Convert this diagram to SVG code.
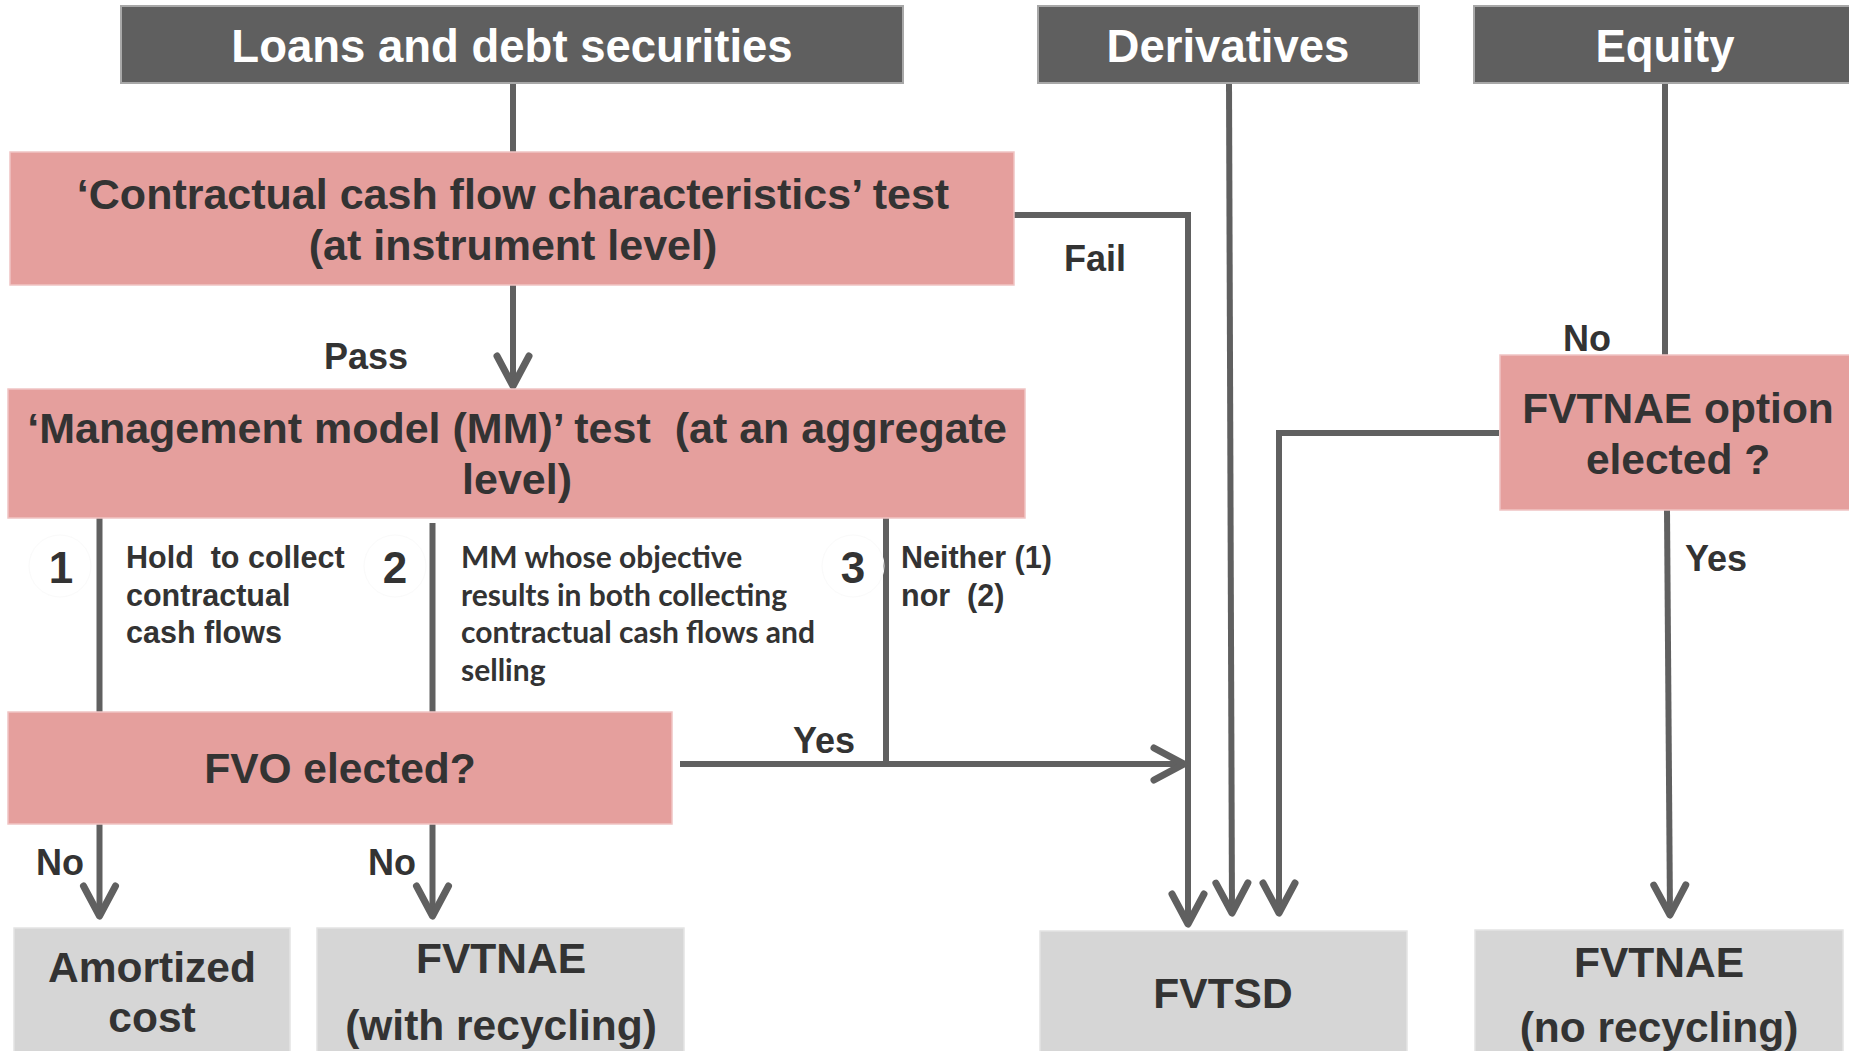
<svg xmlns="http://www.w3.org/2000/svg" width="1849" height="1051" viewBox="0 0 1849 1051">
  <style>
    .hdr { fill: #5f5f5f; stroke: #a8a8a8; stroke-width: 2; }
    .hdr-t { font-family: "Liberation Sans", Arial, sans-serif; font-weight: bold; font-size: 45.5px; fill: #ffffff; text-anchor: middle; }
    .test { fill: #e59f9d; stroke: #f0c4c3; stroke-width: 1.5; }
    .res { fill: #d6d6d6; stroke: #e4e4e4; stroke-width: 1.5; }
    .box-t { font-family: "Liberation Sans", Arial, sans-serif; font-weight: bold; font-size: 43px; fill: #333333; text-anchor: middle; white-space: pre; }
    .sm { font-size: 42.5px; }
    .lbl { font-family: "Liberation Sans", Arial, sans-serif; font-weight: bold; font-size: 36px; fill: #333333; }
    .num { font-family: "Liberation Sans", Arial, sans-serif; font-weight: bold; font-size: 44px; fill: #333333; text-anchor: middle; }
    .ring { fill: none; stroke: #fafafa; stroke-width: 1; }
    .desc { font-family: "Liberation Sans", Arial, sans-serif; font-weight: bold; font-size: 30.5px; fill: #333333; white-space: pre; }
    .desc-c { font-family: Lato, "Open Sans", sans-serif; font-weight: bold; font-size: 30px; fill: #333333; white-space: pre; }
    .wire { fill: none; stroke: #606060; stroke-width: 6; }
    .arrow { marker-end: url(#chev); }
  </style>
  <defs>
    <marker id="chev" markerUnits="userSpaceOnUse" viewBox="-40 -24 46 48" refX="0" refY="0" markerWidth="46" markerHeight="48" orient="auto">
      <path d="M-31,-16 L-1,0 L-31,16" fill="none" stroke="#606060" stroke-width="7" stroke-linecap="round" stroke-linejoin="round"/>
    </marker>
  </defs>

  <!-- connectors -->
  <g id="connectors">
    <path class="wire" d="M513,83 V152"/>
    <path class="wire arrow" d="M513,285 V387"/>
    <path class="wire arrow" d="M1011,215 H1188 V925"/>
    <path class="wire arrow" d="M1229,83 L1232,914"/>
    <path class="wire arrow" d="M1499,433 H1279 V914"/>
    <path class="wire" d="M1665,83 V355"/>
    <path class="wire arrow" d="M1667,510 L1670,916"/>
    <path class="wire" d="M99.5,518 V712"/>
    <path class="wire arrow" d="M99.5,824 V917"/>
    <path class="wire" d="M432.5,523 V712"/>
    <path class="wire arrow" d="M432.5,824 V917"/>
    <path class="wire" d="M886,518 V764"/>
    <path class="wire arrow" d="M680,764 H1185"/>
  </g>

  <!-- category headers -->
  <g id="hdr-loans">
    <rect class="hdr" x="121" y="6" width="782" height="77"/>
    <text class="hdr-t" x="512" y="62">Loans and debt securities</text>
  </g>
  <g id="hdr-derivatives">
    <rect class="hdr" x="1038" y="6" width="381" height="77"/>
    <text class="hdr-t" x="1228" y="62">Derivatives</text>
  </g>
  <g id="hdr-equity">
    <rect class="hdr" x="1474" y="6" width="380" height="77"/>
    <text class="hdr-t" x="1665" y="62">Equity</text>
  </g>

  <!-- tests -->
  <g id="ccf-test">
    <rect class="test" x="10" y="152" width="1004" height="133"/>
    <text class="box-t" x="513" y="209">‘Contractual cash flow characteristics’ test</text>
    <text class="box-t" x="513" y="260">(at instrument level)</text>
  </g>
  <g id="mm-test">
    <rect class="test" x="8" y="389" width="1017" height="129"/>
    <text class="box-t" x="517" y="443">‘Management model (MM)’ test  (at an aggregate</text>
    <text class="box-t" x="517" y="494">level)</text>
  </g>
  <g id="fvo-test">
    <rect class="test" x="8" y="712" width="664" height="112"/>
    <text class="box-t sm" x="340" y="783">FVO elected?</text>
  </g>
  <g id="fvtnae-option">
    <rect class="test" x="1500" y="355" width="354" height="155"/>
    <text class="box-t sm" x="1678" y="423">FVTNAE option</text>
    <text class="box-t sm" x="1678" y="474">elected ?</text>
  </g>

  <!-- outcomes -->
  <g id="amortized-cost">
    <rect class="res" x="14" y="928" width="276" height="130"/>
    <text class="box-t sm" x="152" y="982">Amortized</text>
    <text class="box-t sm" x="152" y="1032">cost</text>
  </g>
  <g id="fvtnae-recycling">
    <rect class="res" x="317" y="928" width="367" height="130"/>
    <text class="box-t sm" x="501" y="973">FVTNAE</text>
    <text class="box-t sm" x="501" y="1040">(with recycling)</text>
  </g>
  <g id="fvtsd">
    <rect class="res" x="1040" y="931" width="367" height="130"/>
    <text class="box-t sm" x="1223" y="1008">FVTSD</text>
  </g>
  <g id="fvtnae-no-recycling">
    <rect class="res" x="1475" y="930" width="368" height="130"/>
    <text class="box-t sm" x="1659" y="977">FVTNAE</text>
    <text class="box-t sm" x="1659" y="1042">(no recycling)</text>
  </g>

  <!-- branch labels -->
  <g id="labels">
    <text class="lbl" x="366" y="369" text-anchor="middle">Pass</text>
    <text class="lbl" x="1095" y="271" text-anchor="middle">Fail</text>
    <text class="lbl" x="1587" y="351" text-anchor="middle">No</text>
    <text class="lbl" x="1716" y="571" text-anchor="middle">Yes</text>
    <text class="lbl" x="824" y="753" text-anchor="middle">Yes</text>
    <text class="lbl" x="60" y="875" text-anchor="middle">No</text>
    <text class="lbl" x="392" y="875" text-anchor="middle">No</text>
  </g>

  <!-- management model options -->
  <g id="mm-option-1">
    <circle class="ring" cx="60" cy="566" r="31"/>
    <text class="num" x="61" y="583">1</text>
    <text class="desc" x="126" y="568">Hold  to collect</text>
    <text class="desc" x="126" y="606">contractual</text>
    <text class="desc" x="126" y="643">cash flows</text>
  </g>
  <g id="mm-option-2">
    <circle class="ring" cx="395" cy="566" r="31"/>
    <text class="num" x="395" y="583">2</text>
    <text class="desc-c" x="461" y="568">MM whose objective</text>
    <text class="desc-c" x="461" y="606">results in both collecting</text>
    <text class="desc-c" x="461" y="643">contractual cash flows and</text>
    <text class="desc-c" x="461" y="681">selling</text>
  </g>
  <g id="mm-option-3">
    <circle class="ring" cx="853" cy="566" r="31"/>
    <text class="num" x="853" y="583">3</text>
    <text class="desc" x="901" y="568">Neither (1)</text>
    <text class="desc" x="901" y="606">nor  (2)</text>
  </g>
</svg>
